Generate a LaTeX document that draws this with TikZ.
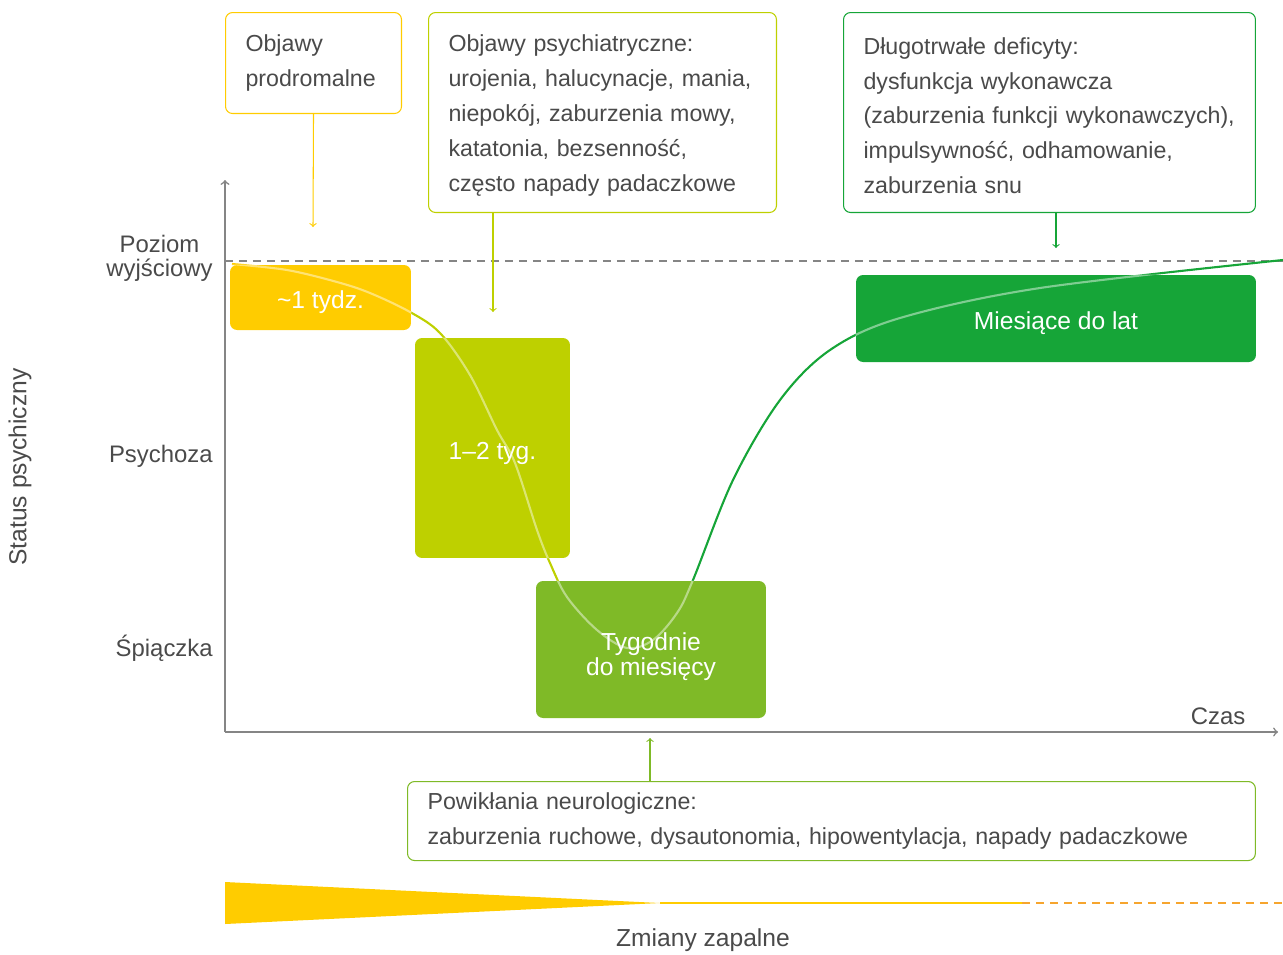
\documentclass[tikz,border=0pt]{standalone}
\usepackage{fontspec}
\setmainfont{Liberation Sans}
\usepackage{xcolor}
\usepackage{tikz}

\definecolor{yellow}{HTML}{FFCC00}
\definecolor{lime}{HTML}{BED000}
\definecolor{green}{HTML}{7FBA27}
\definecolor{dkgreen}{HTML}{16A538}
\definecolor{txt}{HTML}{4A4A4A}
\definecolor{axis}{HTML}{858585}
\definecolor{dashorange}{HTML}{F6A52E}

\newcommand{\statuscurve}{plot[smooth, tension=0.55] coordinates {
  (232,264) (287,270) (337,282) (370,293) (410,312) (440,333) (470,375)
  (497,430) (515,463) (537,530) (550,563) (567,597) (597,630) (627,648)
  (653,640) (677,613) (693,580) (733,480) (780,400) (830,350) (900,318)
  (1040,288) (1283,260)}}
\newcommand{\phtext}[2][0.1cm]{\raisebox{-#1}[\height][\depth]{#2}}
\newcommand{\topgap}{\rule{0pt}{13pt}}

\begin{document}
\begin{tikzpicture}[x=0.02cm, y=-0.02cm,
    font=\fontsize{13.2}{19.8}\selectfont, text=txt,
    phase/.style={rounded corners=4pt, text=white, align=center, inner sep=0pt,
      font=\fontsize{14}{14.5}\selectfont},
    callout/.style={draw, rounded corners=4pt, fill=white, align=left,
      anchor=north west, inner xsep=0.4cm, inner ysep=0pt, line width=0.6pt},
    lbl/.style={align=center, anchor=east, inner sep=0pt,
      font=\fontsize{13.6}{13.6}\selectfont}]

\useasboundingbox (0,0) rectangle (1283,954);

% axes
\coordinate (o) at (225,732);
\coordinate (ytop) at (225,180);
\coordinate (xend) at (1278,732);
\coordinate (b0) at (225,261);
\coordinate (b1) at (1283,261);
\draw[axis, line width=0.9pt, dash pattern=on 0.16cm off 0.12cm] (b0) -- (b1);
\draw[axis, line width=0.9pt, ->] (o) -- (ytop);
\draw[axis, line width=0.9pt, ->] (o) -- (xend);

\node[lbl] (base) at (213,258) {Poziom\\wyjściowy};
\node[lbl] (psy) at (213,456) {Psychoza};
\node[lbl] (coma) at (213,648) {Śpiączka};
\node[rotate=90, font=\fontsize{14}{14}\selectfont] (status) at (20,467) {Status psychiczny};
\node[font=\fontsize{13.6}{13.6}\selectfont] (time) at (1218,716) {Czas};

% curve, under the boxes
\begin{scope}
  \clip (0,0) rectangle (411,954);
  \draw[yellow, line width=1.2pt] \statuscurve;
\end{scope}
\begin{scope}
  \clip (411,0) rectangle (627,954);
  \draw[lime, line width=1.2pt] \statuscurve;
\end{scope}
\begin{scope}
  \clip (627,0) rectangle (1283,954);
  \draw[dkgreen, line width=1.2pt] \statuscurve;
\end{scope}

% phases
\node[phase, fill=yellow, minimum width=3.62cm, minimum height=1.3cm] (p1) at (320.5,297.5) {\phtext{\textasciitilde1 tydz.}};
\node[phase, fill=lime, minimum width=3.1cm, minimum height=4.4cm] (p2) at (492.5,448) {\phtext{1–2 tyg.}};
\node[phase, fill=green, minimum width=4.6cm, minimum height=2.74cm] (p3) at (651,649.5)
  {\phtext[0.17cm]{\begin{tabular}{@{}c@{}}Tygodnie\\do miesięcy\end{tabular}}};
\node[phase, fill=dkgreen, minimum width=8cm, minimum height=1.74cm] (p4) at (1056,318.5) {\phtext{Miesiące do lat}};

% curve seen through the boxes
\begin{scope}
  \clip (p1.south west) rectangle (p1.north east)
        (p2.south west) rectangle (p2.north east)
        (p3.south west) rectangle (p3.north east)
        (p4.south west) rectangle (p4.north east);
  \draw[white, opacity=0.45, line width=1.2pt] \statuscurve;
\end{scope}

% callouts
\node[callout, draw=yellow, text width=2.72cm, minimum width=3.52cm, minimum height=2.02cm] (prod) at (225,12)
  {Objawy\\prodromalne};
\node[callout, draw=lime, text width=6.16cm, minimum width=6.96cm, minimum height=4cm] (psych) at (428,12)
  {\topgap Objawy psychiatryczne:\\urojenia, halucynacje, mania,\\niepokój, zaburzenia mowy,\\katatonia, bezsenność,\\często napady padaczkowe};
\node[callout, draw=dkgreen, text width=7.44cm, minimum width=8.24cm, minimum height=4cm] (long) at (843,12)
  {\topgap Długotrwałe deficyty:\\dysfunkcja wykonawcza\\(zaburzenia funkcji wykonawczych),\\impulsywność, odhamowanie,\\zaburzenia snu};
\node[callout, draw=green, text width=16.16cm, minimum width=16.96cm, minimum height=1.58cm] (neuro) at (407,781)
  {Powikłania neurologiczne:\\zaburzenia ruchowe, dysautonomia, hipowentylacja, napady padaczkowe};

\coordinate (prodtip) at (313,227);
\coordinate (psychtip) at (493,312);
\coordinate (longtip) at (1056,248);
\coordinate (neurotip) at (650,738);
\draw[yellow, line width=0.6pt, ->] (prod.south) -- (prodtip);
\draw[lime, line width=0.6pt, ->] (psych.south -| psychtip) -- (psychtip);
\draw[dkgreen, line width=0.6pt, ->] (long.south -| longtip) -- (longtip);
\draw[green, line width=0.6pt, ->] (neuro.north -| neurotip) -- (neurotip);

% inflammation
\coordinate (w0) at (225,882);
\coordinate (w1) at (225,924);
\coordinate (wtip) at (660,903);
\coordinate (wend) at (1022,903);
\coordinate (dend) at (1283,903);
\fill[yellow] (w0) -- (wtip) -- (w1) -- cycle;
\draw[yellow, line width=1.1pt] (wtip) -- (wend);
\draw[dashorange, line width=1.1pt, dash pattern=on 0.16cm off 0.12cm] (wend) -- (dend);
\node[font=\fontsize{14}{14}\selectfont] (infl) at (703,940) {Zmiany zapalne};

\end{tikzpicture}
\end{document}
